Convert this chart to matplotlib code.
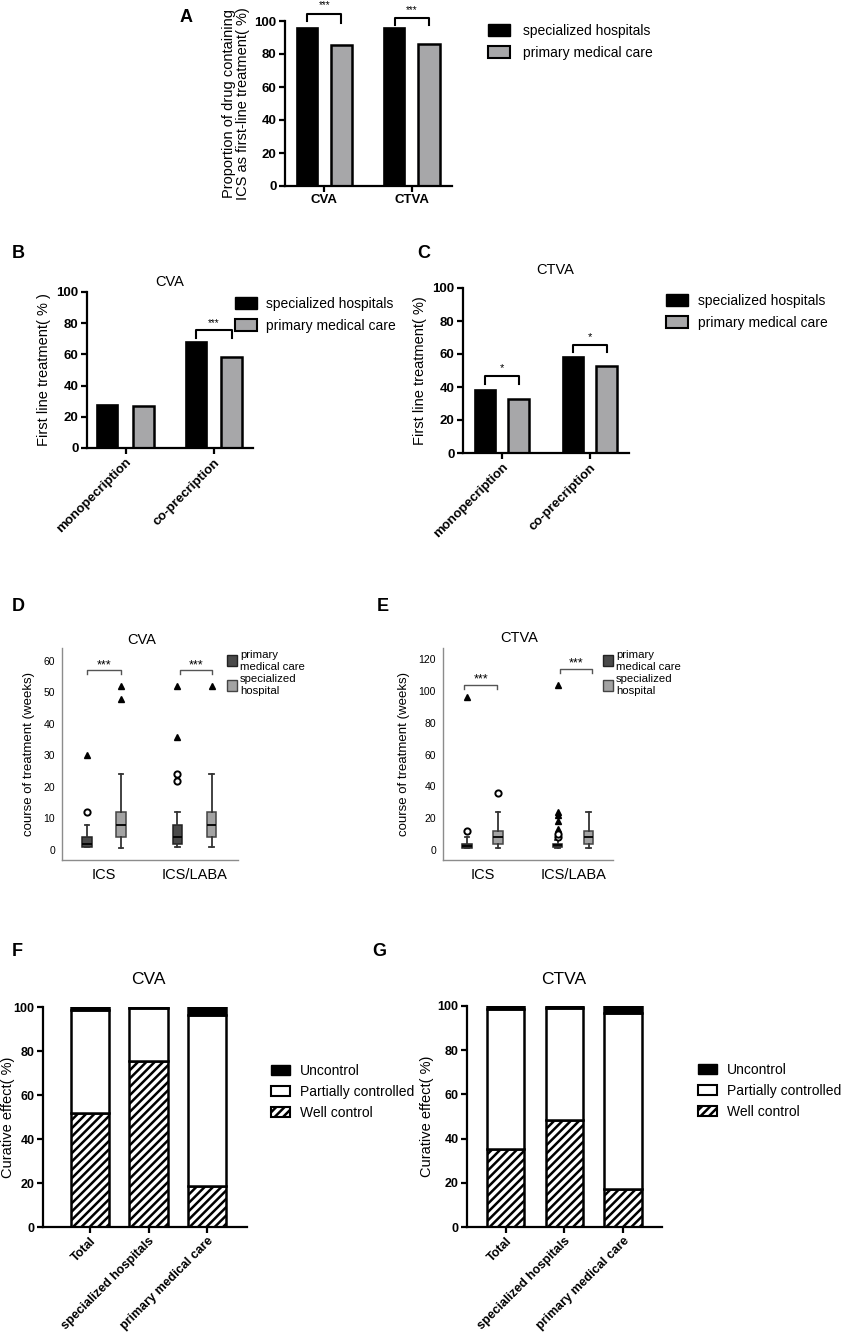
import matplotlib.pyplot as plt
from matplotlib.patches import Patch
import numpy as np

plt.rcParams['font.family'] = ['Liberation Sans', 'DejaVu Sans']
plt.rcParams['hatch.linewidth'] = 1.8

W, H = 842, 1339

# panel A
a_groups = ['CVA', 'CTVA']
a_spec = [96, 96]
a_prim = [85.5, 86]

# panels B / C
bc_groups = ['monopecription', 'co-precription']
b_spec = [27.5, 68]
b_prim = [27, 58.5]
c_spec = [38, 58]
c_prim = [32.5, 53]

# panels D / E (box plots: primary medical care, specialized hospital)
box_groups = ['ICS', 'ICS/LABA']
d_prim_q1 = [1, 2]
d_prim_med = [2, 4]
d_prim_q3 = [4, 8]
d_prim_lo = [1, 1]
d_prim_hi = [8, 12]
d_prim_circ = [[12], [22, 24]]
d_prim_tri = [[30], [36, 52]]
d_spec_q1 = [4, 4]
d_spec_med = [8, 8]
d_spec_q3 = [12, 12]
d_spec_lo = [0.5, 1]
d_spec_hi = [24, 24]
d_spec_circ = [[], []]
d_spec_tri = [[48, 52], [52]]

e_prim_q1 = [1.5, 2]
e_prim_med = [2.5, 3]
e_prim_q3 = [4, 4]
e_prim_lo = [1.5, 1]
e_prim_hi = [8, 6]
e_prim_circ = [[12], [8, 10]]
e_prim_tri = [[96], [13, 18, 22, 24, 104]]
e_spec_q1 = [4, 4]
e_spec_med = [8, 8]
e_spec_q3 = [12, 12]
e_spec_lo = [1, 1]
e_spec_hi = [24, 24]
e_spec_circ = [[36], []]
e_spec_tri = [[], []]

# panels F / G
fg_cats = ['Total', 'specialized hospitals', 'primary medical care']
f_well = [52, 75.5, 18.5]
f_partial = [46.5, 24, 78]
f_unc = [1.5, 0.5, 3.5]
g_well = [35.5, 48.5, 17]
g_partial = [63, 50.5, 80]
g_unc = [1.5, 1, 3]

fig = plt.figure(figsize=(W / 100, H / 100), dpi=100)


def place(l, t, r, b):
    return fig.add_axes([l / W, 1 - b / H, (r - l) / W, (b - t) / H])


def ftext(x, y, s, **kw):
    fig.text(x / W, 1 - y / H, s, **kw)


def prism(ax, fs=9.5):
    for s in ['top', 'right']:
        ax.spines[s].set_visible(False)
    for s in ['left', 'bottom']:
        ax.spines[s].set_linewidth(1.6)
    ax.tick_params(width=1.6, length=4, labelsize=fs, pad=2)
    ax.set_ylim(0, 100)
    ax.set_yticks([0, 20, 40, 60, 80, 100])
    for lbl in ax.get_yticklabels() + ax.get_xticklabels():
        lbl.set_fontweight('bold')


def bracket(ax, x1, x2, y, d1, d2, s, ty, fs=8):
    ax.plot([x1, x1, x2, x2], [y - d1, y, y, y - d2], color='black', lw=1.5, clip_on=False)
    ax.text((x1 + x2) / 2, ty, s, ha='center', va='center', fontsize=fs, clip_on=False)


def bar_pair(ax, spec, prim, off, w):
    x = np.arange(len(spec))
    ax.bar(x - off, spec, w, color='black', edgecolor='black', lw=1.2, label='specialized hospitals')
    ax.bar(x + off, prim, w, color='#a7a7a9', edgecolor='black', lw=1.8, label='primary medical care')
    return x


def legend_pair(ax, x, y, fs, pad=0.9):
    hs = [Patch(facecolor='black', edgecolor='black'),
          Patch(facecolor='#a7a7a9', edgecolor='black', lw=1.5)]
    ax.legend(hs, ['specialized hospitals', 'primary medical care'], loc='upper left',
              bbox_to_anchor=(x / W, 1 - y / H), bbox_transform=fig.transFigure,
              frameon=False, fontsize=fs, handlelength=1.6, handleheight=0.9,
              handletextpad=pad, labelspacing=0.55, borderaxespad=0, borderpad=0)


# ---- A ----
axA = place(285, 21, 452, 186)
x = bar_pair(axA, a_spec, a_prim, 0.195, 0.245)
axA.set_xlim(-0.45, 1.46)
axA.set_xticks(x)
axA.set_xticklabels(a_groups)
prism(axA)
axA.set_ylabel('Proportion of drug containing\nICS as first-line treatment( %)', fontsize=10.5, labelpad=3,
               linespacing=1.0)
bracket(axA, -0.195, 0.195, 104.5, 4.5, 6, '***', 109.5, 7)
bracket(axA, 0.805, 1.195, 102, 4.5, 4.5, '***', 106.5, 7)
legend_pair(axA, 488, 24, 10)
ftext(180, 18, 'A', fontsize=13, fontweight='bold', va='center')

# ---- B ----
axB = place(87, 292, 253, 448)
x = bar_pair(axB, b_spec, b_prim, 0.2, 0.24)
axB.set_xlim(-0.435, 1.44)
axB.set_xticks(x)
axB.set_xticklabels(bc_groups, rotation=45, ha='right', rotation_mode='anchor')
prism(axB)
axB.set_ylabel('First line treatment( % )', fontsize=10.5, labelpad=4)
bracket(axB, 0.8, 1.2, 75.5, 5, 5, '***', 80, 7)
legend_pair(axB, 235, 297, 10, 0.6)
ftext(170, 282, 'CVA', fontsize=10.5, ha='center', va='center')
ftext(12, 253, 'B', fontsize=13, fontweight='bold', va='center')

# ---- C ----
axC = place(463, 288, 629, 453)
x = bar_pair(axC, c_spec, c_prim, 0.19, 0.24)
axC.set_xlim(-0.443, 1.443)
axC.set_xticks(x)
axC.set_xticklabels(bc_groups, rotation=45, ha='right', rotation_mode='anchor')
prism(axC)
axC.set_ylabel('First line treatment( %)', fontsize=10.5, labelpad=4)
bracket(axC, -0.19, 0.19, 46.5, 4.5, 4.5, '*', 51.5, 8)
bracket(axC, 0.81, 1.19, 65.5, 4.5, 4.5, '*', 70.5, 8)
legend_pair(axC, 666, 294, 10, 0.7)
ftext(555, 270, 'CTVA', fontsize=10.5, ha='center', va='center')
ftext(417, 253, 'C', fontsize=13, fontweight='bold', va='center')


# ---- D / E ----
def stats(q1, med, q3, lo, hi):
    return [dict(q1=a, med=b, q3=c, whislo=d, whishi=e, fliers=[])
            for a, b, c, d, e in zip(q1, med, q3, lo, hi)]


def spss(ax, prim, spec, prim_circ, prim_tri, spec_circ, spec_tri, off):
    x = np.arange(len(prim))
    common = dict(widths=0.105, patch_artist=True, showfliers=False, capwidths=0.05,
                  medianprops=dict(color='black', lw=1.3),
                  whiskerprops=dict(color='#333333', lw=1.3),
                  capprops=dict(color='#333333', lw=1.3))
    ax.bxp(prim, positions=x - off, boxprops=dict(facecolor='#4a4a4a', edgecolor='#222222', lw=1.1),
           **common)
    ax.bxp(spec, positions=x + off, boxprops=dict(facecolor='#a3a3a3', edgecolor='#444444', lw=1.1),
           **common)
    for i in range(len(x)):
        for pos, circ, tri in [(x[i] - off, prim_circ[i], prim_tri[i]), (x[i] + off, spec_circ[i], spec_tri[i])]:
            ax.plot([pos] * len(tri), tri, '^', color='black', ms=4.5, clip_on=False)
            ax.plot([pos] * len(circ), circ, 'o', mfc='white', mec='black', mew=1.4, ms=4.5, clip_on=False)
    for s in ['top', 'right']:
        ax.spines[s].set_visible(False)
    for s in ['left', 'bottom']:
        ax.spines[s].set_color('#8c8c8c')
        ax.spines[s].set_linewidth(1.0)
    ax.tick_params(length=0, labelsize=7.5, pad=5)
    ax.tick_params(axis='x', labelsize=10.5, pad=6)
    ax.set_xticks(x)
    ax.set_xticklabels(box_groups)
    ax.set_ylabel('course of treatment (weeks)', fontsize=9.5, labelpad=6)
    return x


def legend_box(ax, x, y):
    hs = [Patch(facecolor='#4a4a4a', edgecolor='#222222'),
          Patch(facecolor='#a3a3a3', edgecolor='#444444')]
    ax.legend(hs, ['primary\nmedical care', 'specialized\nhospital'], loc='upper left',
              bbox_to_anchor=(x / W, 1 - y / H), bbox_transform=fig.transFigure,
              frameon=False, fontsize=8.2, handlelength=0.9, handleheight=1.1,
              handletextpad=0.25, labelspacing=0.25, borderaxespad=0, borderpad=0)


def bbr(ax, x1, x2, y, d, ty):
    ax.plot([x1, x1, x2, x2], [y - d, y, y, y - d], color='#555555', lw=1.0, clip_on=False)
    ax.text((x1 + x2) / 2, ty, '***', ha='center', va='center', fontsize=9, clip_on=False)


axD = place(62, 648, 238, 860)
spss(axD, stats(d_prim_q1, d_prim_med, d_prim_q3, d_prim_lo, d_prim_hi),
     stats(d_spec_q1, d_spec_med, d_spec_q3, d_spec_lo, d_spec_hi),
     d_prim_circ, d_prim_tri, d_spec_circ, d_spec_tri, 0.19)
axD.set_xlim(-0.464, 1.48)
axD.set_ylim(-3.2, 64.1)
axD.set_yticks([0, 10, 20, 30, 40, 50, 60])
bbr(axD, -0.19, 0.19, 57, 1.3, 58.5)
bbr(axD, 0.84, 1.19, 57, 1.3, 58.5)
legend_box(axD, 227, 650)
ftext(142, 640, 'CVA', fontsize=10.5, ha='center', va='center')
ftext(12, 607, 'D', fontsize=13, fontweight='bold', va='center')

axE = place(443, 648, 613, 860)
spss(axE, stats(e_prim_q1, e_prim_med, e_prim_q3, e_prim_lo, e_prim_hi),
     stats(e_spec_q1, e_spec_med, e_spec_q3, e_spec_lo, e_spec_hi),
     e_prim_circ, e_prim_tri, e_spec_circ, e_spec_tri, 0.17)
axE.set_xlim(-0.436, 1.44)
axE.set_ylim(-6.3, 127)
axE.set_yticks([0, 20, 40, 60, 80, 100, 120])
bbr(axE, -0.2, 0.16, 104, 2.5, 107)
bbr(axE, 0.86, 1.21, 114, 2.5, 117)
legend_box(axE, 603, 650)
ftext(519, 638, 'CTVA', fontsize=10.5, ha='center', va='center')
ftext(377, 607, 'E', fontsize=13, fontweight='bold', va='center')


# ---- F / G ----
def stacked(ax, well, partial, unc, w, lab_x):
    x = np.arange(len(well))
    well = np.array(well)
    partial = np.array(partial)
    ax.bar(x, well, w, color='white', edgecolor='black', hatch='////', lw=1.8)
    ax.bar(x, partial, w, bottom=well, color='white', edgecolor='black', lw=1.8)
    ax.bar(x, unc, w, bottom=well + partial, color='black', edgecolor='black', lw=1.8)
    ax.set_xticks(x)
    ax.set_xticklabels(fg_cats, rotation=45, ha='right', rotation_mode='anchor')
    prism(ax, 9)
    ax.set_ylabel('Curative effect( %)', fontsize=10.5)
    ax.yaxis.set_label_coords(lab_x, 0.5)
    return x


def legend_fg(ax, x, y):
    hs = [Patch(facecolor='black', edgecolor='black'),
          Patch(facecolor='white', edgecolor='black', lw=1.5),
          Patch(facecolor='white', edgecolor='black', lw=1.5, hatch='////')]
    ax.legend(hs, ['Uncontrol', 'Partially controlled', 'Well control'], loc='upper left',
              bbox_to_anchor=(x / W, 1 - y / H), bbox_transform=fig.transFigure,
              frameon=False, fontsize=10, handlelength=1.4, handleheight=0.75,
              handletextpad=0.7, labelspacing=0.5, borderaxespad=0, borderpad=0)


axF = place(43, 1007, 247, 1227)
stacked(axF, f_well, f_partial, f_unc, 0.65, -0.135)
axF.set_xlim(-0.8, 2.68)
legend_fg(axF, 271, 1064)
ftext(148, 980, 'CVA', fontsize=12.5, ha='center', va='center')
ftext(12, 952, 'F', fontsize=13, fontweight='bold', va='center')

axG = place(467, 1006, 662, 1227)
stacked(axG, g_well, g_partial, g_unc, 0.64, -0.17)
axG.set_xlim(-0.655, 2.66)
legend_fg(axG, 698, 1063)
ftext(564, 980, 'CTVA', fontsize=12.5, ha='center', va='center')
ftext(372, 952, 'G', fontsize=13, fontweight='bold', va='center')

fig.savefig('out.png', dpi=100)
